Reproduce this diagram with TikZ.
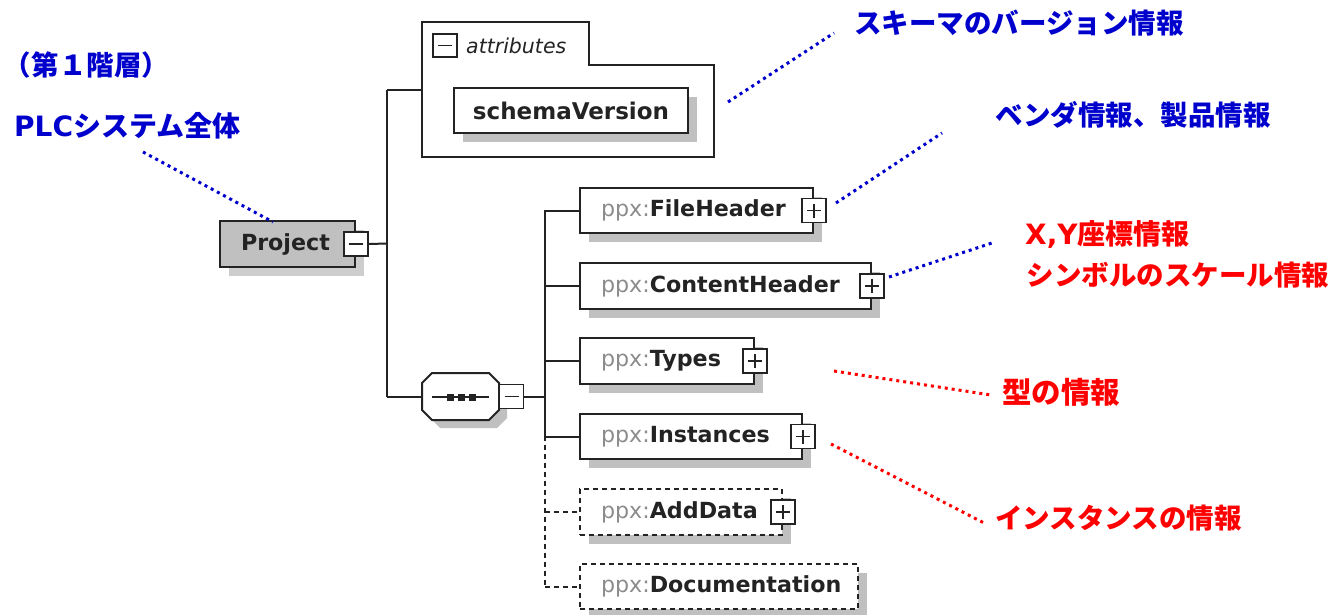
\documentclass[tikz,border=0pt]{standalone}
\usepackage{fontspec}
\setmainfont{DejaVu Sans}
\newfontfamily\cjk{Noto Sans CJK JP}
\usetikzlibrary{shadows}
\definecolor{lblue}{RGB}{0,0,204}
\definecolor{lred}{RGB}{255,0,0}
\definecolor{shgray}{RGB}{192,192,192}
\definecolor{ppxgray}{RGB}{140,140,140}
\definecolor{ink}{RGB}{35,35,35}
\newcommand{\ppx}{{\color{ppxgray}\mdseries ppx:}}
\tikzset{
  boxbase/.style={draw=ink, line width=2pt, fill=white, anchor=north west,
    inner xsep=21pt, inner ysep=0pt, minimum height=45pt,
    font=\fontsize{22.2}{26}\selectfont\bfseries, text=ink},
  elbox/.style={boxbase, general shadow={fill=shgray, shadow xshift=9pt, shadow yshift=-9pt}},
  optbox/.style={elbox, dash pattern=on 5pt off 4pt},
  pmbox/.style={draw=ink, line width=1.8pt, fill=white, minimum width=24pt,
    minimum height=24pt, inner sep=0pt},
  pmplus/.style={pmbox, path picture={
    \draw[ink, line width=1.8pt] ([xshift=-7pt]path picture bounding box.center) -- ([xshift=7pt]path picture bounding box.center);
    \draw[ink, line width=1.8pt] ([yshift=-7pt]path picture bounding box.center) -- ([yshift=7pt]path picture bounding box.center);}},
  pmminus/.style={pmbox, path picture={
    \draw[ink, line width=1.8pt] ([xshift=-7pt]path picture bounding box.center) -- ([xshift=7pt]path picture bounding box.center);}},
  conn/.style={draw=ink, line width=2pt},
  optconn/.style={conn, dash pattern=on 5pt off 4pt},
  bdot/.style={draw=lblue, line width=3pt, dash pattern=on 3pt off 4pt},
  rdot/.style={draw=lred, line width=3pt, dash pattern=on 3pt off 4pt},
  lab/.style={font=\cjk\bfseries\fontsize{27.5}{33}\selectfont, inner sep=0pt},
}
\begin{document}
\begin{tikzpicture}[x=1pt,y=-1pt]
\useasboundingbox (0,0) rectangle (1332,615);

% ---------- Project ----------
\node[boxbase, fill=shgray, minimum height=46pt,
  general shadow={fill=shgray!80!white, shadow xshift=9pt, shadow yshift=-9pt}]
  (proj) at (219,220) {\makebox[93pt][l]{Project}};
\node[pmminus] (projm) at (proj.east) {};

% ---------- trunk 1 ----------
\coordinate (ta) at (387,90);
\coordinate (tm) at (387,243.5);
\coordinate (tb) at (387,397);
\draw[conn] (ta) -- (tb);
\draw[conn] (projm.east) -- (tm);

% ---------- attributes ----------
\coordinate (attrw) at (422,90);
\draw[conn] (ta) -- (attrw);
\draw[conn] (422,22) -- (589,22) -- (589,65) -- (714,65)
  -- (714,157) -- (422,157) -- cycle;
\node[pmminus, minimum height=23pt] (attrm) at (445,45.5) {};
\node[anchor=west, inner sep=0pt, font=\fontsize{20.5}{24}\selectfont\itshape, text=ink]
  (attrt) at (466,45.5) {attributes};
\node[elbox, inner xsep=0pt, minimum width=234pt, font=\fontsize{23}{27}\selectfont\bfseries] (sv) at (453,87) {schemaVersion};

% ---------- sequence compositor ----------
\fill[shgray] (440,381) -- (497,381) -- (507,391) -- (507,418) -- (497,428)
  -- (440,428) -- (430,418) -- (430,391) -- cycle;
\draw[conn, fill=white] (432,373) -- (489,373) -- (499,383) -- (499,410) -- (489,420)
  -- (432,420) -- (422,410) -- (422,383) -- cycle;
\coordinate (seqw) at (422,397);
\draw[conn] (tb) -- (seqw);
\draw[ink, line width=1.8pt] (432,397) -- (489,397);
\foreach \x in {450,461,472} \fill[ink] (\x-3.5,393.5) rectangle (\x+3.5,400.5);
\node[pmminus] (seqm) at (511.5,396.5) {};

% ---------- trunk 2 ----------
\coordinate (sa) at (545,209.5);
\coordinate (sm) at (545,396.5);
\coordinate (sc) at (545,435.5);
\coordinate (sb) at (545,586);
\draw[conn] (seqm.east) -- (sm);
\draw[conn] (sa) -- (sc);
\draw[optconn] (sc) -- (sb);

% ---------- children ----------
\node[elbox] (fh) at (579,187) {\makebox[191pt][l]{\ppx FileHeader}};
\node[pmplus] (fhp) at (fh.east) {};
\node[elbox, minimum height=46pt] (ch) at (579,262) {\makebox[249pt][l]{\ppx ContentHeader}};
\node[pmplus] (chp) at (ch.east) {};
\node[elbox, minimum height=46pt] (ty) at (579,337) {\makebox[132pt][l]{\ppx Types}};
\node[pmplus] (typ) at (ty.east) {};
\node[elbox] (in) at (579,413) {\makebox[180pt][l]{\ppx Instances}};
\node[pmplus] (inp) at (in.east) {};
\node[optbox, minimum height=46pt] (ad) at (579,488) {\makebox[160pt][l]{\ppx AddData}};
\node[pmplus] (adp) at (ad.east) {};
\node[optbox] (doc) at (579,563) {\makebox[236pt][l]{\ppx Documentation}};

\draw[conn] (fh.west -| sa) -- (fh.west);
\draw[conn] (ch.west -| sa) -- (ch.west);
\draw[conn] (ty.west -| sa) -- (ty.west);
\draw[conn] (in.west -| sa) -- (in.west);
\draw[optconn] (ad.west -| sa) -- (ad.west);
\draw[optconn] (doc.west -| sa) -- (doc.west);

% ---------- labels ----------
\node[lab, text=lblue] (l0) at (86.5,65) {（第１階層）};
\node[lab, text=lblue, anchor=west, font=\cjk\bfseries\fontsize{28}{33}\selectfont] (l1) at (14,125.5) {{\normalfont\bfseries PLC}システム全体};
\node[lab, text=lblue] (l2) at (1019,23) {スキーマのバージョン情報};
\node[lab, text=lblue] (l3) at (1133,115) {ベンダ情報、製品情報};
\node[lab, text=lred, anchor=west, font=\cjk\bfseries\fontsize{28}{33}\selectfont] (l4) at (1025,234.5) {{\normalfont\bfseries X,Y}座標情報};
\node[lab, text=lred] (l5) at (1178,275.5) {シンボルのスケール情報};
\node[lab, text=lred, font=\cjk\bfseries\fontsize{29.5}{35}\selectfont] (l6) at (1061,392) {型の情報};
\node[lab, text=lred] (l7) at (1118.5,518) {インスタンスの情報};

% ---------- dotted callouts ----------
\coordinate (c1a) at (143,152); \coordinate (c1b) at (273,222);
\coordinate (c2a) at (728,102); \coordinate (c2b) at (834,33);
\coordinate (c3a) at (836,203); \coordinate (c3b) at (942,133);
\coordinate (c4a) at (889,277); \coordinate (c4b) at (995,242);
\coordinate (c5a) at (834,371); \coordinate (c5b) at (991,395);
\coordinate (c6a) at (831,444); \coordinate (c6b) at (986,524);
\draw[bdot] (c1a) -- (c1b);
\draw[bdot] (c2a) -- (c2b);
\draw[bdot] (c3a) -- (c3b);
\draw[bdot] (c4a) -- (c4b);
\draw[rdot] (c5a) -- (c5b);
\draw[rdot] (c6a) -- (c6b);
\end{tikzpicture}
\end{document}
